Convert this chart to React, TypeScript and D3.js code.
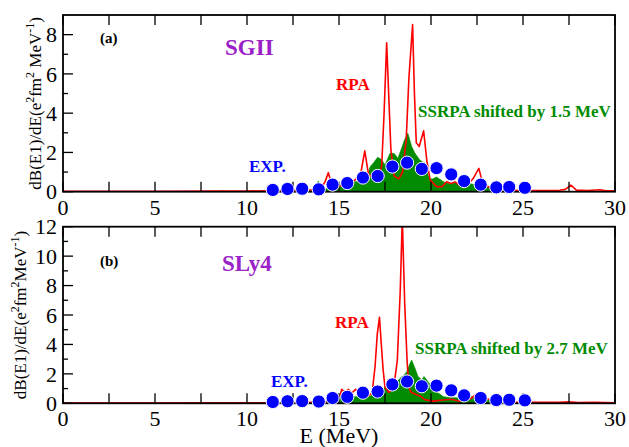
import React from "react";
import * as d3 from "d3";

// Photo-absorption strength dB(E1)/dE versus excitation energy E (MeV)
// Each curve is a list of [E, value] pairs.

// Panel (a): SGII
const rpaSGII: [number, number][] = [
  [0, 0.02], [5, 0.02], [8, 0.03], [10, 0.03], [11, 0.05], [12, 0.06], [13, 0.08],
  [13.6, 0.1], [14.0, 0.15], [14.24, 0.5], [14.42, 0.97], [14.6, 0.35], [14.9, 0.25],
  [15.2, 0.3], [15.5, 0.4], [15.8, 0.55], [16.0, 0.7], [16.2, 1.02], [16.4, 2.08],
  [16.6, 0.9], [16.8, 0.75], [17.0, 0.8], [17.2, 1.0], [17.32, 1.3], [17.45, 4.0],
  [17.59, 7.58], [17.72, 4.5], [17.82, 2.15], [18.0, 0.8], [18.25, 0.65], [18.45, 1.0],
  [18.65, 2.6], [18.8, 5.8], [19.0, 8.51], [19.1, 5.0], [19.2, 2.5], [19.36, 2.3],
  [19.6, 3.1], [19.77, 1.6], [19.95, 0.6], [20.3, 0.26], [20.6, 0.26], [20.85, 0.51],
  [21.1, 0.42], [21.3, 0.5], [21.6, 0.3], [21.96, 0.3], [22.3, 0.68], [22.6, 1.19],
  [22.76, 0.6], [23.0, 0.3], [23.4, 0.12], [24, 0.08], [25, 0.06], [26, 0.06],
  [27.0, 0.07], [27.3, 0.12], [27.6, 0.34], [27.9, 0.08], [28.5, 0.06], [29.2, 0.1],
  [29.5, 0.05], [30, 0.04],
];

const ssrpaSGII: [number, number][] = [
  [0, 0], [8.5, 0], [8.7, 0.04], [8.9, 0], [10.1, 0], [10.3, 0.04], [10.5, 0],
  [13.0, 0], [13.5, 0.08], [13.75, 0.3], [13.88, 0.55], [14.0, 0.2], [14.2, 0.12],
  [14.6, 0.25], [15.05, 0.35], [15.4, 0.44], [15.96, 0.52], [16.3, 0.6], [16.5, 0.7],
  [16.7, 1.28], [16.9, 1.5], [17.1, 1.75], [17.3, 1.65], [17.5, 1.36], [17.77, 1.96],
  [18.0, 1.95], [18.2, 1.7], [18.4, 2.21], [18.56, 2.64], [18.74, 2.98], [18.95, 2.3],
  [19.13, 1.96], [19.4, 1.6], [19.67, 1.45], [19.86, 0.8], [20.04, 0.63], [20.3, 0.75],
  [20.7, 0.5], [21.0, 0.4], [21.6, 0.5], [22.05, 0.43], [22.5, 0.33], [22.95, 0.3],
  [23.2, 0.23], [23.7, 0.1], [24.4, 0.04], [25, 0], [30, 0],
];

// Panel (b): SLy4
const rpaSLy4: [number, number][] = [
  [0, 0.02], [10, 0.03], [13, 0.05], [14.2, 0.1], [14.7, 0.1], [15.05, 0.5],
  [15.15, 0.95], [15.32, 0.7], [15.5, 0.95], [15.7, 0.7], [15.9, 0.95], [16.17, 0.7],
  [16.53, 0.43], [16.8, 0.7], [16.96, 2.5], [17.08, 4.7], [17.2, 5.84], [17.3, 4.0],
  [17.4, 2.26], [17.5, 1.1], [17.7, 0.75], [17.97, 1.0], [18.17, 2.94], [18.33, 7.7],
  [18.44, 12.6], [18.57, 6.8], [18.7, 2.9], [18.8, 1.1], [18.92, 0.75], [19.2, 0.6],
  [19.4, 0.5], [19.66, 0.25], [20.1, 0.15], [20.67, 0.22], [21.1, 0.27], [21.5, 0.15],
  [21.7, 0.2], [22.1, 0.27], [22.4, 0.56], [22.7, 0.6], [22.95, 0.35], [23.3, 0.2],
  [23.8, 0.1], [25, 0.06], [27, 0.06], [27.5, 0.1], [28, 0.05], [28.9, 0.07], [30, 0.04],
];

const ssrpaSLy4: [number, number][] = [
  [0, 0], [15.0, 0], [15.05, 0.55], [15.3, 0.5], [15.8, 0.45], [16.3, 0.45],
  [16.7, 0.5], [16.9, 0.7], [17.23, 0.75], [17.4, 0.95], [17.59, 1.24], [17.77, 1.2],
  [18.1, 1.4], [18.4, 1.8], [18.5, 1.85], [18.68, 2.15], [18.86, 2.72], [18.95, 2.94],
  [19.1, 2.49], [19.3, 1.8], [19.5, 1.6], [19.62, 1.82], [19.77, 1.58], [20.05, 1.13],
  [20.3, 0.79], [20.68, 0.45], [21.05, 0.38], [21.5, 0.38], [22.2, 0.45], [22.7, 0.4],
  [23.0, 0.25], [23.7, 0.12], [24.4, 0.05], [25, 0], [30, 0],
];

// Experimental points (same in both panels)
const expE = [11.4, 12.2, 13.0, 13.9, 14.65, 15.45, 16.3, 17.1, 17.9, 18.7, 19.5, 20.3, 21.1, 21.8, 22.7, 23.55, 24.25, 25.1];
const expV = [0.09, 0.14, 0.15, 0.12, 0.36, 0.44, 0.72, 0.8, 1.28, 1.48, 1.16, 1.2, 0.88, 0.54, 0.36, 0.22, 0.24, 0.2];

const xTicks = [0, 5, 10, 15, 20, 25, 30];
const xMinor = [2.5, 7.5, 12.5, 17.5, 22.5, 27.5];
const yTicksA = [0, 2, 4, 6, 8];
const yTicksB = [0, 2, 4, 6, 8, 10, 12];

const X0 = 63;
const X1 = 615;
const SERIF = "Liberation Serif, DejaVu Serif, Times New Roman, serif";
const RED = "#ff0000";
const GREEN = "#008b00";
const BLUE = "#0000ff";
const PURPLE = "#9a22c8";

type PanelProps = {
  id: string;
  top: number;
  bottom: number;
  yMax: number;
  yTicks: number[];
  rpa: [number, number][];
  ssrpa: [number, number][];
  tag: string;
  model: string;
  modelPos: [number, number];
  tagPos: [number, number];
  rpaPos: [number, number];
  ssrpaText: string;
  ssrpaPos: [number, number];
  expPos: [number, number];
  titleX: number;
  titleParts: { t: string; sup?: boolean }[];
};

const serif = (size: number, bold = false): React.CSSProperties => ({
  fontFamily: SERIF,
  fontSize: `${size}px`,
  fontWeight: bold ? "bold" : "normal",
});

function Panel(p: PanelProps) {
  const x = d3.scaleLinear().domain([0, 30]).range([X0, X1]);
  const y = d3.scaleLinear().domain([0, p.yMax]).range([p.bottom, p.top]);
  const line = d3.line<[number, number]>().x((d) => x(d[0])).y((d) => y(d[1]));
  const area = d3
    .area<[number, number]>()
    .x((d) => x(d[0]))
    .y0(y(0))
    .y1((d) => y(d[1]));
  const yMinor: number[] = [];
  for (let v = 1; v < p.yMax; v += 2) yMinor.push(v);
  const clipId = `clip-${p.id}`;
  const midY = (p.top + p.bottom) / 2;

  return (
    <g>
      <defs>
        <clipPath id={clipId}>
          <rect x={X0} y={p.top} width={X1 - X0} height={p.bottom - p.top} />
        </clipPath>
      </defs>
      <g clipPath={`url(#${clipId})`}>
        <path d={area(p.ssrpa) ?? ""} fill={GREEN} stroke={GREEN} strokeWidth={0.6} />
        <path d={line(p.rpa) ?? ""} fill="none" stroke={RED} strokeWidth={1.6} strokeLinejoin="round" />
      </g>
      {/* frame */}
      <rect x={X0} y={p.top} width={X1 - X0} height={p.bottom - p.top} fill="none" stroke="#000" strokeWidth={1.8} />
      {/* x ticks, inside, on bottom and top */}
      {[...xTicks, ...xMinor].map((t) => (
        <g key={`xt${t}`}>
          <line x1={x(t)} x2={x(t)} y1={p.bottom} y2={p.bottom - 10} stroke="#000" strokeWidth={1.3} />
          <line x1={x(t)} x2={x(t)} y1={p.top} y2={p.top + 10} stroke="#000" strokeWidth={1.3} />
        </g>
      ))}
      {xTicks.map((t) => (
        <text key={`xl${t}`} x={x(t)} y={p.bottom + 23} textAnchor="middle" style={serif(22)}>
          {t}
        </text>
      ))}
      {p.yTicks.map((t) => (
        <g key={`yt${t}`}>
          <line x1={X0} x2={X0 + 10} y1={y(t)} y2={y(t)} stroke="#000" strokeWidth={1.3} />
          <text x={X0 - 6} y={y(t)} dy="0.35em" textAnchor="end" style={serif(22)}>
            {t}
          </text>
        </g>
      ))}
      {yMinor.map((t) => (
        <line key={`ym${t}`} x1={X0} x2={X0 + 5} y1={y(t)} y2={y(t)} stroke="#000" strokeWidth={1.3} />
      ))}
      {/* experimental points */}
      {expE.map((e, i) => (
        <circle key={`ex${i}`} cx={x(e)} cy={y(expV[i])} r={6.6} fill={BLUE} stroke="#fff" strokeWidth={1} />
      ))}
      {/* annotations */}
      <text x={p.tagPos[0]} y={p.tagPos[1]} style={serif(15, true)}>
        {p.tag}
      </text>
      <text x={p.modelPos[0]} y={p.modelPos[1]} fill={PURPLE} style={serif(23, true)}>
        {p.model}
      </text>
      <text x={p.rpaPos[0]} y={p.rpaPos[1]} fill={RED} style={serif(17, true)}>
        RPA
      </text>
      <text x={p.ssrpaPos[0]} y={p.ssrpaPos[1]} fill={GREEN} style={serif(17, true)}>
        {p.ssrpaText}
      </text>
      <text x={p.expPos[0]} y={p.expPos[1]} fill={BLUE} style={serif(17, true)}>
        EXP.
      </text>
      {/* y axis title */}
      <text transform={`translate(${p.titleX},${midY}) rotate(-90)`} textAnchor="middle" style={serif(17)}>
        {p.titleParts.map((part, i) =>
          part.sup ? (
            <tspan key={i} style={{ fontSize: "12px" }} dy={-7}>
              {part.t}
            </tspan>
          ) : (
            <tspan key={i} dy={i > 0 && p.titleParts[i - 1].sup ? 7 : 0}>
              {part.t}
            </tspan>
          )
        )}
      </text>
    </g>
  );
}

export default function App() {
  return (
    <div style={{ position: "absolute", left: 0, top: 0 }}>
      <svg width={629} height={447} style={{ display: "block", background: "#fff" }}>
        <Panel
          id="a"
          top={15}
          bottom={191.7}
          yMax={9}
          yTicks={yTicksA}
          rpa={rpaSGII}
          ssrpa={ssrpaSGII}
          tag="(a)"
          tagPos={[100, 43]}
          model="SGII"
          modelPos={[225, 55]}
          rpaPos={[336, 90]}
          ssrpaText="SSRPA shifted by 1.5 MeV"
          ssrpaPos={[418, 116.5]}
          expPos={[249, 171.5]}
          titleX={41}
          titleParts={[
            { t: "dB(E1)/dE(e" },
            { t: "2", sup: true },
            { t: "fm" },
            { t: "2", sup: true },
            { t: " MeV" },
            { t: "-1", sup: true },
            { t: ")" },
          ]}
        />
        <Panel
          id="b"
          top={226.7}
          bottom={403.3}
          yMax={12}
          yTicks={yTicksB}
          rpa={rpaSLy4}
          ssrpa={ssrpaSLy4}
          tag="(b)"
          tagPos={[100, 266]}
          model="SLy4"
          modelPos={[222, 271]}
          rpaPos={[335, 328]}
          ssrpaText="SSRPA shifted by 2.7 MeV"
          ssrpaPos={[415, 354]}
          expPos={[271, 387]}
          titleX={26}
          titleParts={[
            { t: "dB(E1)/dE(e" },
            { t: "2", sup: true },
            { t: "fm" },
            { t: "2", sup: true },
            { t: "MeV" },
            { t: "-1", sup: true },
            { t: ")" },
          ]}
        />
        <text x={339} y={443} textAnchor="middle" style={serif(22)}>
          E (MeV)
        </text>
      </svg>
    </div>
  );
}
